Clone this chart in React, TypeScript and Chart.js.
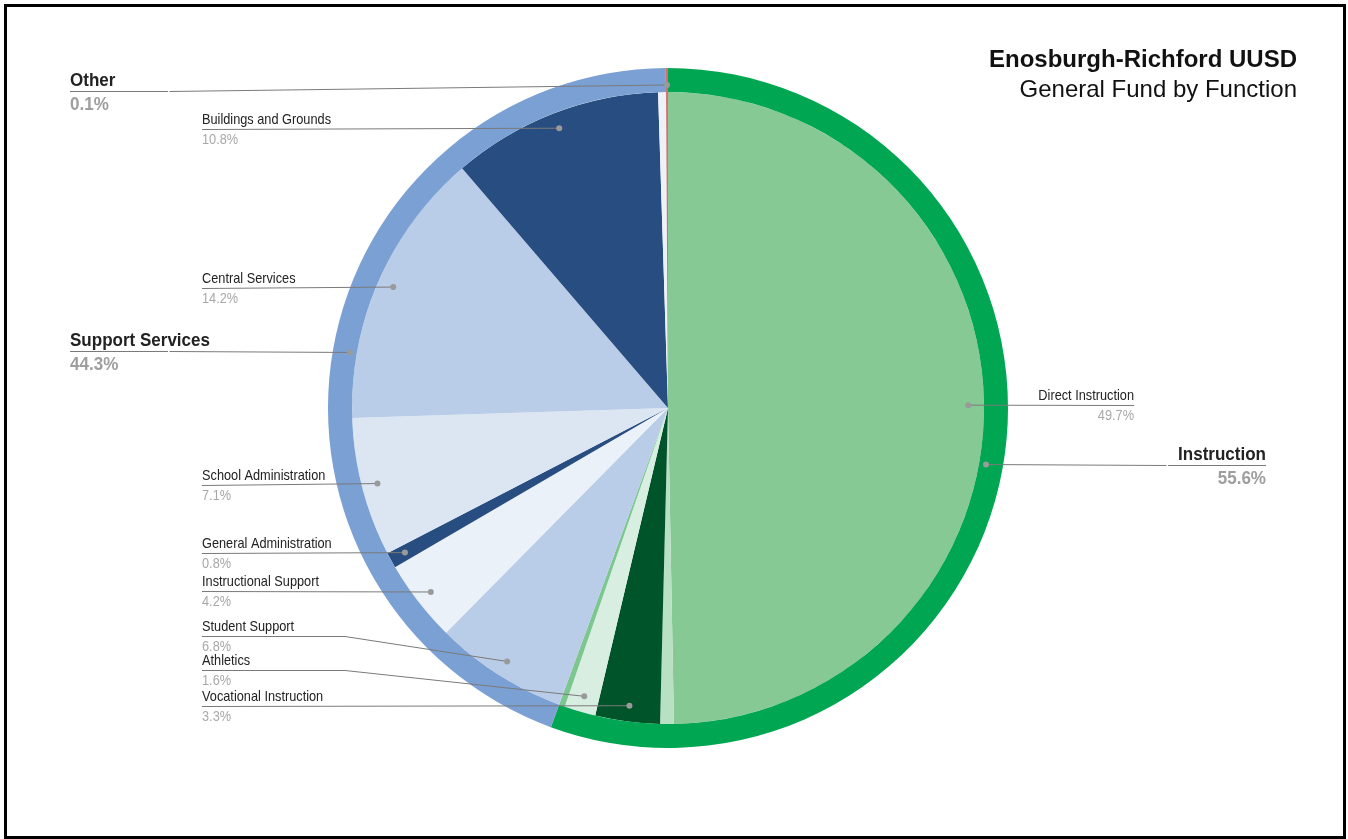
import React, { useEffect, useRef } from 'react';
import { Chart, registerables } from 'chart.js';

Chart.register(...registerables);

// ---- Data ----
const groupLabels = ['Instruction', 'Support Services', 'Other'];
const groupValues = [55.6, 44.3, 0.1];
const groupColors = ['#00a651', '#7ba0d4', '#e06a70'];

const itemLabels = [
  'Direct Instruction',
  'Other Instruction',
  'Vocational Instruction',
  'Athletics',
  'Co-Curricular',
  'Student Support',
  'Instructional Support',
  'General Administration',
  'School Administration',
  'Central Services',
  'Buildings and Grounds',
  'Other Support',
  'Other',
];
const itemValues = [49.7, 0.7, 3.3, 1.6, 0.3, 6.8, 4.2, 0.8, 7.1, 14.2, 10.8, 0.4, 0.1];
const itemColors = [
  '#86c994',
  '#b8e0c3',
  '#00542a',
  '#d8eee0',
  '#7cc68f',
  '#bacde8',
  '#ebf1f8',
  '#284d80',
  '#dce6f3',
  '#bacde8',
  '#284d80',
  '#edf2f9',
  '#e06a70',
];

const titleText = 'Enosburgh-Richford UUSD';
const subtitleText = 'General Fund by Function';

// ---- Label layout (positions/styles only) ----
type Lay = {
  ds: number;
  idx: number;
  x: number;
  lineY: number;
  align: 'left' | 'right';
  bold?: boolean;
  elbowX?: number;
};

const labelLayout: Lay[] = [
  { ds: 0, idx: 2, x: 70, lineY: 91, align: 'left', bold: true },
  { ds: 1, idx: 10, x: 202, lineY: 129, align: 'left' },
  { ds: 1, idx: 9, x: 202, lineY: 288, align: 'left' },
  { ds: 0, idx: 1, x: 70, lineY: 351, align: 'left', bold: true },
  { ds: 1, idx: 8, x: 202, lineY: 485, align: 'left' },
  { ds: 1, idx: 7, x: 202, lineY: 553, align: 'left' },
  { ds: 1, idx: 6, x: 202, lineY: 591, align: 'left' },
  { ds: 1, idx: 5, x: 202, lineY: 636, align: 'left', elbowX: 345 },
  { ds: 1, idx: 3, x: 202, lineY: 670, align: 'left', elbowX: 345 },
  { ds: 1, idx: 2, x: 202, lineY: 706, align: 'left' },
  { ds: 1, idx: 0, x: 1134, lineY: 405, align: 'right' },
  { ds: 0, idx: 0, x: 1266, lineY: 465, align: 'right', bold: true },
];

const FONT = '"Liberation Sans", Arial, Helvetica, sans-serif';

function drawText(
  ctx: CanvasRenderingContext2D,
  text: string,
  x: number,
  y: number,
  size: number,
  bold: boolean,
  color: string,
  align: CanvasTextAlign,
  sx: number
) {
  ctx.save();
  ctx.translate(x, y);
  ctx.scale(sx, 1);
  ctx.font = `${bold ? 'bold ' : ''}${size}px ${FONT}`;
  ctx.fillStyle = color;
  ctx.textAlign = align;
  ctx.textBaseline = 'alphabetic';
  ctx.fillText(text, 0, 0);
  ctx.restore();
}

const labelPlugin = {
  id: 'calloutLabels',
  afterDraw(chart: any) {
    const ctx: CanvasRenderingContext2D = chart.ctx;
    ctx.save();
    for (const L of labelLayout) {
      const meta = chart.getDatasetMeta(L.ds);
      const arc = meta.data[L.idx];
      if (!arc) continue;
      const p = arc.getProps(['x', 'y', 'startAngle', 'endAngle', 'outerRadius'], true);
      const mid = (p.startAngle + p.endAngle) / 2;
      const r = p.outerRadius * 0.95;
      const dx = p.x + Math.cos(mid) * r;
      const dy = p.y + Math.sin(mid) * r;

      const name = L.ds === 0 ? groupLabels[L.idx] : itemLabels[L.idx];
      const val = L.ds === 0 ? groupValues[L.idx] : itemValues[L.idx];
      const pct = val.toFixed(1) + '%';

      // leader line
      ctx.strokeStyle = '#7a7a7a';
      ctx.lineWidth = 1;
      ctx.beginPath();
      const ly = L.lineY + 0.5;
      if (L.bold) {
        const dir = L.align === 'left' ? 1 : -1;
        const gx = L.x + dir * 98;
        ctx.moveTo(L.x, ly);
        ctx.lineTo(gx, ly);
        ctx.moveTo(gx + dir * 1.5, ly);
        ctx.lineTo(dx, dy);
      } else {
        ctx.moveTo(L.x, ly);
        if (L.elbowX !== undefined) ctx.lineTo(L.elbowX, ly);
        ctx.lineTo(dx, dy);
      }
      ctx.stroke();

      // dot
      ctx.fillStyle = '#9a9a9a';
      ctx.beginPath();
      ctx.arc(dx, dy, 3, 0, Math.PI * 2);
      ctx.fill();

      const align: CanvasTextAlign = L.align === 'left' ? 'left' : 'right';
      if (L.bold) {
        drawText(ctx, name, L.x, L.lineY - 5.5, 18.5, true, '#222222', align, 0.92);
        drawText(ctx, pct, L.x, L.lineY + 18.5, 18.5, true, '#9e9e9e', align, 0.92);
      } else {
        drawText(ctx, name, L.x, L.lineY - 5, 15, false, '#222222', align, 0.85);
        drawText(ctx, pct, L.x, L.lineY + 15, 14.5, false, '#a8a8a8', align, 0.88);
      }
    }

    // title
    drawText(ctx, titleText, 1297, 67, 24, true, '#111111', 'right', 1);
    drawText(ctx, subtitleText, 1297, 97, 24, false, '#111111', 'right', 1);
    ctx.restore();
  },
};

export default function App() {
  const canvasRef = useRef<HTMLCanvasElement | null>(null);

  useEffect(() => {
    if (!canvasRef.current) return;
    const chart = new Chart(canvasRef.current, {
      type: 'doughnut',
      data: {
        labels: itemLabels,
        datasets: [
          {
            data: groupValues,
            backgroundColor: groupColors,
            borderWidth: 0,
            weight: 24,
          } as any,
          {
            data: itemValues,
            backgroundColor: itemColors,
            borderWidth: 0,
            weight: 316,
          } as any,
        ],
      },
      options: {
        responsive: false,
        animation: false,
        cutout: 0,
        devicePixelRatio: 1,
        layout: { padding: { left: 328, right: 340, top: 68, bottom: 91 } },
        plugins: {
          legend: { display: false },
          tooltip: { enabled: false },
          title: { display: false },
        },
      } as any,
      plugins: [labelPlugin],
    });
    return () => chart.destroy();
  }, []);

  return (
    <div style={{ position: 'absolute', left: 0, top: 0, width: 1348, height: 839, background: '#fff', overflow: 'hidden' }}>
      <div
        style={{
          position: 'absolute',
          left: 4,
          top: 4,
          width: 1336,
          height: 829,
          border: '3px solid #000',
          boxSizing: 'content-box',
        }}
      />
      <canvas
        ref={canvasRef}
        width={1348}
        height={839}
        style={{ position: 'absolute', left: 0, top: 0, width: 1348, height: 839 }}
      />
    </div>
  );
}
